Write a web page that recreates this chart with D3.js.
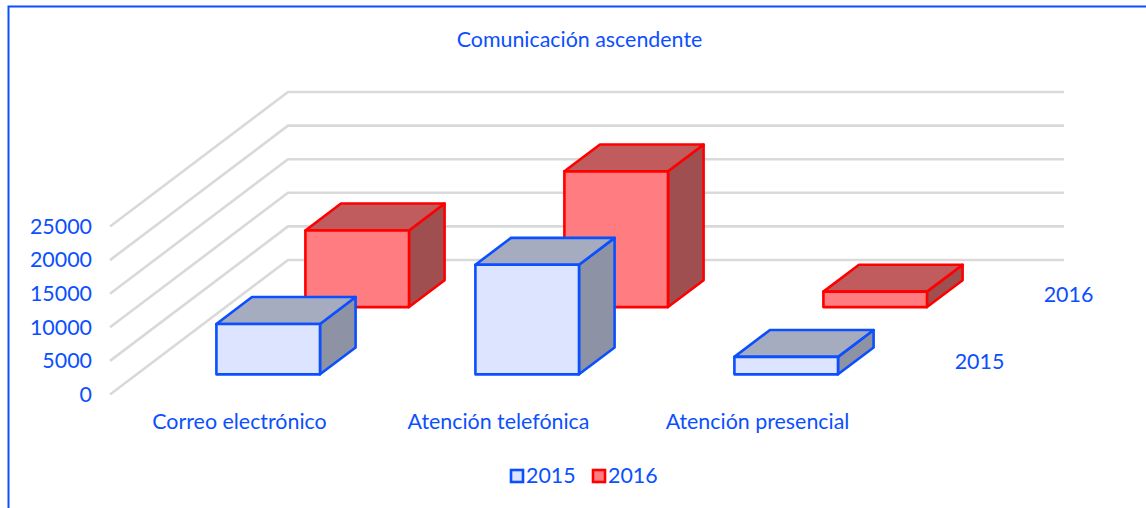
<!DOCTYPE html>
<html>
<head>
<meta charset="utf-8">
<script src="https://cdn.jsdelivr.net/npm/d3@7"></script>
<style>
    html, body { margin: 0; padding: 0; background: #fff; overflow: hidden; }
    text { font-family: Lato, sans-serif; font-size: 21.4px; fill: #0b4fff; }
</style>
</head>
<body>
<div id="my_dataviz"></div>
<script>
const categories = ['Correo electrónico', 'Atención telefónica', 'Atención presencial'];
const seriesNames = ['2015', '2016'];
const values2015 = [7500, 16300, 2600];
const values2016 = [11400, 20200, 2300];
const yTicks = [0, 5000, 10000, 15000, 20000, 25000];

const width = 1146;
const height = 508;
const depthX = 178; // how far the floor runs to the right going back
const depthY = 134.5; // and how far up

const colors = {
    '2015': {stroke: '#0b4fff', front: '#dde4ff', top: '#a6acbf', side: '#8e92a5'},
    '2016': {stroke: '#ff0000', front: '#ff7c80', top: '#c05c5e', side: '#a04f50'}
};

const svg = d3.select('#my_dataviz')
    .append('svg')
    .attr('width', width)
    .attr('height', height);

// frame, only top and left show
svg.append('path')
    .attr('d', d3.line()([[8.5, height], [8.5, 6.5], [width, 6.5]]))
    .attr('fill', 'none')
    .attr('stroke', '#0b4fff')
    .attr('stroke-width', 2);

// scales
const x = d3.scaleBand()
    .domain(categories)
    .range([112, 889])
    .paddingInner(0.6)
    .paddingOuter(0.3);

const y = d3.scaleLinear()
    .domain([0, 25000])
    .range([394.5, 226.5]);

const depth = d3.scaleBand()
    .domain(seriesNames)
    .range([0, 1])
    .paddingInner(0.6)
    .paddingOuter(0.3);

// front coordinates + depth fraction -> screen point
function project(px, value, d) {
    return [px + d * depthX, y(value) - d * depthY];
}

// gridlines
svg.append('g')
    .selectAll('path')
    .data(yTicks)
    .enter().append('path')
    .attr('d', d => d3.line()([[110, y(d)], [110 + depthX, y(d) - depthY], [1064, y(d) - depthY]]))
    .attr('fill', 'none')
    .attr('stroke', '#d9d9d9')
    .attr('stroke-width', 2.6);

// y axis
const yAxis = svg.append('g')
    .attr('transform', 'translate(98,0)')
    .call(d3.axisLeft(y).tickValues(yTicks).tickSize(0).tickPadding(6).tickFormat(d3.format('d')));
yAxis.select('.domain').remove();
svg.selectAll('g').attr('font-size', null).attr('font-family', null);

// category labels
svg.append('g')
    .selectAll('text')
    .data(categories)
    .enter().append('text')
    .attr('x', d => x(d) + x.bandwidth() / 2 - 2)
    .attr('y', 429)
    .attr('text-anchor', 'middle')
    .text(d => d);

// series labels on the depth axis
svg.append('g')
    .selectAll('text')
    .data(seriesNames)
    .enter().append('text')
    .attr('x', d => project(935, 0, depth(d) + depth.bandwidth() / 2)[0])
    .attr('y', d => project(935, 0, depth(d) + depth.bandwidth() / 2)[1] + 8)
    .attr('text-anchor', 'middle')
    .text(d => d);

// bars, back series first so the front one covers it
const seriesValues = {'2015': values2015, '2016': values2016};
seriesNames.slice().reverse().forEach(function (name) {
    const d0 = depth(name);
    const d1 = d0 + depth.bandwidth();
    const c = colors[name];
    categories.forEach(function (cat, i) {
        const v = seriesValues[name][i];
        const x0 = x(cat);
        const x1 = x0 + x.bandwidth();
        const faces = [
            {fill: c.side, pts: [project(x1, 0, d0), project(x1, 0, d1), project(x1, v, d1), project(x1, v, d0)]},
            {fill: c.top, pts: [project(x0, v, d0), project(x1, v, d0), project(x1, v, d1), project(x0, v, d1)]},
            {fill: c.front, pts: [project(x0, 0, d0), project(x1, 0, d0), project(x1, v, d0), project(x0, v, d0)]}
        ];
        svg.append('g')
            .selectAll('polygon')
            .data(faces)
            .enter().append('polygon')
            .attr('points', d => d.pts.join(' '))
            .attr('fill', d => d.fill)
            .attr('stroke', c.stroke)
            .attr('stroke-width', 2.6)
            .attr('stroke-linejoin', 'round');
    });
});

// legend
const legendX = d3.scaleOrdinal().domain(seriesNames).range([511, 593]);
const legend = svg.append('g')
    .selectAll('g')
    .data(seriesNames)
    .enter().append('g')
    .attr('transform', d => 'translate(' + legendX(d) + ',470)');
legend.append('rect')
    .attr('width', 12)
    .attr('height', 12)
    .attr('fill', d => colors[d].front)
    .attr('stroke', d => colors[d].stroke)
    .attr('stroke-width', 2.6);
legend.append('text')
    .attr('x', 15)
    .attr('y', 13)
    .text(d => d);

// title
svg.append('text')
    .attr('x', 579.5)
    .attr('y', 47)
    .attr('text-anchor', 'middle')
    .text('Comunicación ascendente');
</script>
</body>
</html>
